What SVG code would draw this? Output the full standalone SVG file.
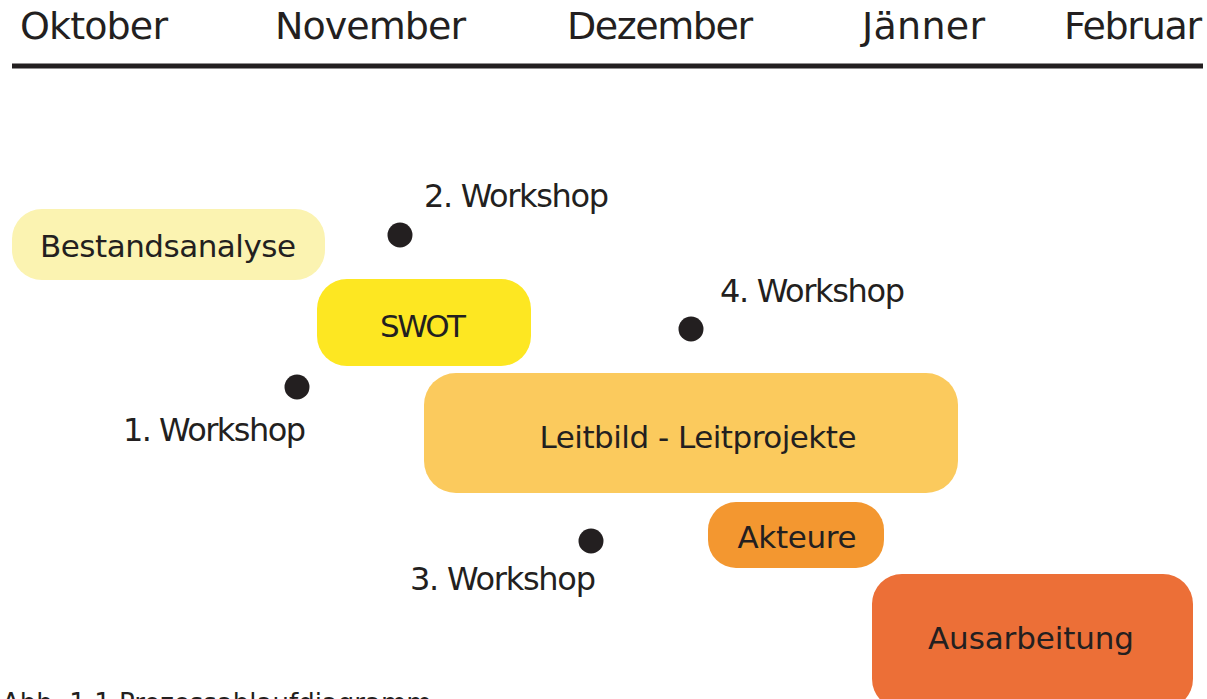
<svg xmlns="http://www.w3.org/2000/svg" width="1207" height="699" viewBox="0 0 1207 699">
<style>
text{font-family:"DejaVu Sans","Liberation Sans",sans-serif;fill:#231f20}
.m{font-size:38px}
.w{font-size:32px}
.n{font-size:31px;text-anchor:middle}
.dot{fill:#231f20}
</style>
<rect width="1207" height="699" fill="#ffffff"/>
<g id="timeline">
<text class="m" x="20" y="39" textLength="148">Oktober</text>
<text class="m" x="275" y="39" textLength="191">November</text>
<text class="m" x="567" y="39" textLength="186">Dezember</text>
<text class="m" x="862" y="39" textLength="123">Jänner</text>
<text class="m" x="1064" y="39" textLength="138">Februar</text>
<rect x="12" y="63.5" width="1191" height="5" fill="#231f20"/>
</g>
<g id="connectors"></g>
<g id="bestandsanalyse">
<rect x="12" y="209" width="313" height="71" rx="30" fill="#fbf3b1"/>
<text class="n" x="168" y="257" textLength="256">Bestandsanalyse</text>
</g>
<g id="swot">
<rect x="317" y="279" width="214" height="87" rx="30" fill="#fde722"/>
<text class="n" x="423" y="337" textLength="86">SWOT</text>
</g>
<g id="leitbild">
<rect x="424" y="373" width="534" height="120" rx="32" fill="#fbca5d"/>
<text class="n" x="698" y="448" textLength="317">Leitbild - Leitprojekte</text>
</g>
<g id="akteure">
<rect x="708" y="502" width="176" height="66" rx="28" fill="#f39730"/>
<text class="n" x="797" y="548" textLength="119">Akteure</text>
</g>
<g id="ausarbeitung">
<rect x="872" y="574" width="321" height="135" rx="30" fill="#ec6f37"/>
<text class="n" x="1031" y="649" textLength="206">Ausarbeitung</text>
</g>
<g id="workshop1">
<circle class="dot" cx="297" cy="387" r="12.5"/>
<text class="w" x="123" y="441" textLength="183">1. Workshop</text>
</g>
<g id="workshop2">
<circle class="dot" cx="400" cy="235" r="12.5"/>
<text class="w" x="424" y="207" textLength="185">2. Workshop</text>
</g>
<g id="workshop3">
<circle class="dot" cx="591" cy="541" r="12.5"/>
<text class="w" x="410" y="590" textLength="186">3. Workshop</text>
</g>
<g id="workshop4">
<circle class="dot" cx="691" cy="329" r="12.5"/>
<text class="w" x="720" y="302" textLength="185">4. Workshop</text>
</g>
<g id="caption">
<text x="2" y="712" style="font-size:26px">Abb. 1.1 Prozessablaufdiagramm</text>
</g>
</svg>
